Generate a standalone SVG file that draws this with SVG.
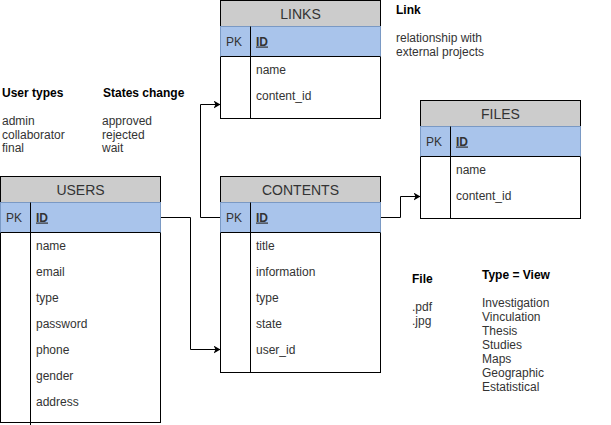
<svg xmlns="http://www.w3.org/2000/svg" width="611" height="425" viewBox="0 0 611 425">
<style>
text{font-family:"Liberation Sans",Arial,sans-serif;fill:#333333}
.hd{font-size:14px;text-anchor:middle}
.f{font-size:12px}
.b{font-size:12px;font-weight:bold;fill:#000}
.n{font-size:12px;fill:#333}
.pk{font-size:12px;font-weight:bold;text-decoration:underline}
.hfill{fill:#cccccc;stroke:#000;stroke-width:1}
.pfill{fill:#a9c4eb;stroke:#7a99c4;stroke-width:1}
.body{fill:#ffffff;stroke:#000;stroke-width:1}
.ln{stroke:#000;stroke-width:1;fill:none}
.con{stroke:#000;stroke-width:1;fill:none;marker-end:url(#arr)}
</style>
<defs>
<marker id="arr" markerUnits="userSpaceOnUse" markerWidth="10" markerHeight="10" refX="7" refY="4" orient="auto">
<path d="M0,0 L7,4 L0,8 L2,4 Z" fill="#000"/>
</marker>
</defs>
<rect width="611" height="425" fill="#ffffff"/>

<g id="connectors">
<path class="con" d="M160.5,217.5 H190.5 V349.5 H220.5"/>
<path class="con" d="M220.5,217.5 H200.5 V104.5 H220.5"/>
<path class="con" d="M380.5,217.5 H400.5 V196.5 H420.5"/>
</g>

<g id="users">
<rect class="body" x="0.5" y="232.5" width="160" height="190"/>
<rect class="hfill" x="0.5" y="176.5" width="160" height="26"/>
<rect class="pfill" x="0.5" y="202.5" width="160" height="30"/>
<line class="ln" x1="0.5" y1="232.5" x2="160.5" y2="232.5"/>
<line class="ln" x1="30.5" y1="202.5" x2="30.5" y2="425"/>
<text class="hd" x="80.5" y="194.5">USERS</text>
<text class="f" x="6" y="221.5">PK</text>
<text class="pk" x="36" y="221.5">ID</text>
<text class="f" x="36" y="249.5">name</text>
<text class="f" x="36" y="275.5">email</text>
<text class="f" x="36" y="301.5">type</text>
<text class="f" x="36" y="327.5">password</text>
<text class="f" x="36" y="353.5">phone</text>
<text class="f" x="36" y="379.5">gender</text>
<text class="f" x="36" y="405.5">address</text>
</g>

<g id="contents">
<rect class="body" x="220.5" y="232.5" width="160" height="140"/>
<rect class="hfill" x="220.5" y="176.5" width="160" height="26"/>
<rect class="pfill" x="220.5" y="202.5" width="160" height="30"/>
<line class="ln" x1="220.5" y1="232.5" x2="380.5" y2="232.5"/>
<line class="ln" x1="250.5" y1="202.5" x2="250.5" y2="372.5"/>
<text class="hd" x="300.5" y="194.5">CONTENTS</text>
<text class="f" x="226" y="221.5">PK</text>
<text class="pk" x="256" y="221.5">ID</text>
<text class="f" x="256" y="249.5">title</text>
<text class="f" x="256" y="275.5">information</text>
<text class="f" x="256" y="301.5">type</text>
<text class="f" x="256" y="327.5">state</text>
<text class="f" x="256" y="353.5">user_id</text>
</g>

<g id="links">
<rect class="body" x="220.5" y="56.5" width="160" height="62"/>
<rect class="hfill" x="220.5" y="0.5" width="160" height="26"/>
<rect class="pfill" x="220.5" y="26.5" width="160" height="30"/>
<line class="ln" x1="220.5" y1="56.5" x2="380.5" y2="56.5"/>
<line class="ln" x1="250.5" y1="26.5" x2="250.5" y2="118.5"/>
<text class="hd" x="300.5" y="18.5">LINKS</text>
<text class="f" x="226" y="45.5">PK</text>
<text class="pk" x="256" y="45.5">ID</text>
<text class="f" x="256" y="73.5">name</text>
<text class="f" x="256" y="99.5">content_id</text>
</g>

<g id="files">
<rect class="body" x="420.5" y="156.5" width="160" height="62"/>
<rect class="hfill" x="420.5" y="100.5" width="160" height="26"/>
<rect class="pfill" x="420.5" y="126.5" width="160" height="30"/>
<line class="ln" x1="420.5" y1="156.5" x2="580.5" y2="156.5"/>
<line class="ln" x1="450.5" y1="126.5" x2="450.5" y2="218.5"/>
<text class="hd" x="500.5" y="118.5">FILES</text>
<text class="f" x="426" y="145.5">PK</text>
<text class="pk" x="456" y="145.5">ID</text>
<text class="f" x="456" y="173.5">name</text>
<text class="f" x="456" y="199.5">content_id</text>
</g>

<g id="note-usertypes">
<text class="b" x="2" y="97">User types</text>
<text class="n" x="2" y="125">admin</text>
<text class="n" x="2" y="138.5">collaborator</text>
<text class="n" x="2" y="152">final</text>
</g>
<g id="note-states">
<text class="b" x="103" y="97">States change</text>
<text class="n" x="102" y="125">approved</text>
<text class="n" x="102" y="138.5">rejected</text>
<text class="n" x="102" y="152">wait</text>
</g>
<g id="note-link">
<text class="b" x="396" y="14">Link</text>
<text class="n" x="396" y="42">relationship with</text>
<text class="n" x="396" y="55.5">external projects</text>
</g>
<g id="note-file">
<text class="b" x="412" y="283">File</text>
<text class="n" x="412" y="311">.pdf</text>
<text class="n" x="412" y="324.5">.jpg</text>
</g>
<g id="note-type">
<text class="b" x="482" y="279">Type = View</text>
<text class="n" x="482" y="306.5">Investigation</text>
<text class="n" x="482" y="320.5">Vinculation</text>
<text class="n" x="482" y="334.5">Thesis</text>
<text class="n" x="482" y="348.5">Studies</text>
<text class="n" x="482" y="362.5">Maps</text>
<text class="n" x="482" y="376.5">Geographic</text>
<text class="n" x="482" y="390.5">Estatistical</text>
</g>
</svg>
